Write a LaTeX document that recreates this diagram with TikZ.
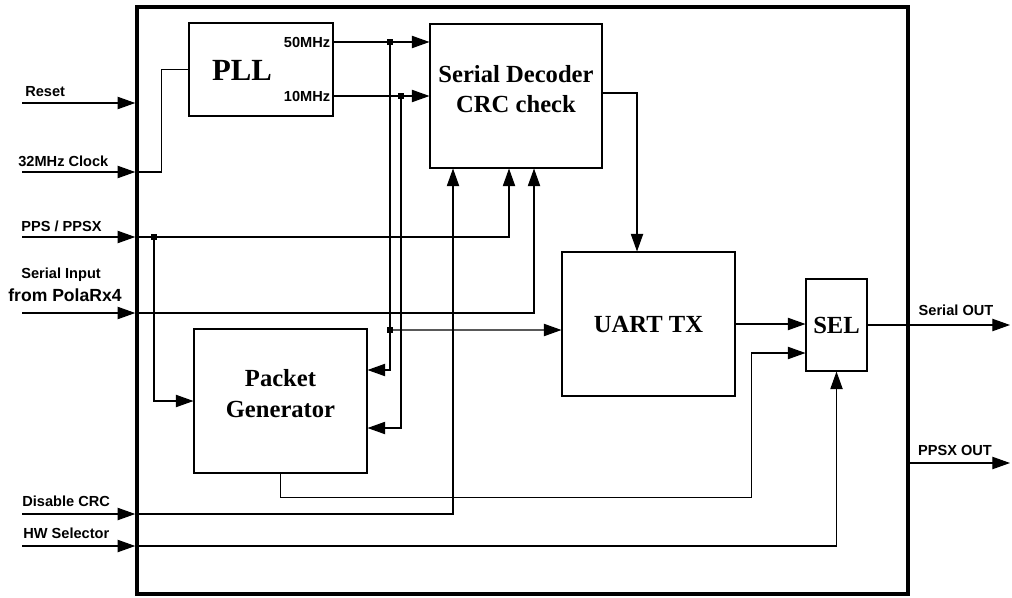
\documentclass[tikz,border=0pt]{standalone}
\usepackage{fontspec}
\setmainfont{Liberation Serif}
\setsansfont{Liberation Sans}
\usetikzlibrary{arrows.meta,positioning}
\tikzset{
  blk/.style={ draw, line width=0.6pt, inner sep=0pt, font=\bfseries\fontsize{14}{17}\selectfont }
}
\tikzset{
  blktxt/.style={ inner sep=0pt, align=center, font=\bfseries\fontsize{14}{17.5}\selectfont }
}
\tikzset{
  lbl/.style={ inner sep=0pt, font=\sffamily\bfseries\fontsize{8.3}{10}\selectfont }
}
\tikzset{
  ln/.style={ line width=0.6pt }
}
\tikzset{
  wire/.style={ line width=0.6pt, -{Triangle[length=10pt,width=7pt]} }
}
\tikzset{
  jdot/.style={ fill, rectangle, inner sep=0pt, minimum size=1.1mm }
}

\begin{document}
\begin{tikzpicture}[x=0.2mm, y=-0.2mm]
  \useasboundingbox (0,0) rectangle (1012,597);

  % blocks
  \node[draw, line width=2pt, minimum width=154.2mm, minimum height=117.4mm] (core) at (522.5,300.5) {};
  \node[blk, minimum width=28.8mm, minimum height=18.6mm] (pll) at (261,69.5) {};
  \node[blktxt, font=\bfseries\fontsize{17.5}{20}\selectfont] at (242,70) {PLL};
  \node[blk, minimum width=34.4mm, minimum height=28.8mm] (dec) at (516,96) {};
  \node[blktxt] at (516,89) {Serial Decoder\\CRC check};
  \node[blk, minimum width=34.6mm, minimum height=28.8mm] (pg) at (280.5,401) {};
  \node[blktxt] at (280.5,393.5) {Packet\\Generator};
  \node[blk, minimum width=34.6mm, minimum height=28.8mm] (uart) at (648.5,324) {UART TX};
  \node[blk, minimum width=12.2mm, minimum height=18.4mm] (sel) at (836.5,325) {SEL};

  % PLL outputs
  \coordinate (f50) at ([yshift=5.5mm]pll.east);
  \coordinate (f10) at ([yshift=-5.3mm]pll.east);
  \node[lbl, anchor=east] at ([xshift=-0.6mm]f50) {50MHz};
  \node[lbl, anchor=east] at ([xshift=-0.6mm]f10) {10MHz};

  % inputs
  \coordinate (reset) at (22,103);
  \coordinate (clk) at (22,172);
  \coordinate (pps) at (22,237);
  \coordinate (ser) at (22,313);
  \coordinate (dis) at (22,514);
  \coordinate (hw) at (22,546);
  \node[lbl, anchor=west] at (25,92) {Reset};
  \node[lbl, anchor=west] at (18,161) {32MHz Clock};
  \node[lbl, anchor=west] at (21,226) {PPS / PPSX};
  \node[lbl, anchor=west] at (21,275) {Serial Input};
  \node[lbl, anchor=west, font=\sffamily\bfseries\fontsize{10}{12}\selectfont] at (8,295) {from PolaRx4};
  \node[lbl, anchor=west] at (22,501) {Disable CRC};
  \node[lbl, anchor=west] at (23,533) {HW Selector};
  \foreach \s in {reset,clk,pps,ser,dis,hw}
    \draw[wire] (\s) -- (\s -| core.west);

  % outputs
  \coordinate (serout) at (1010,325);
  \coordinate (ppsxout) at (1010,463);
  \node[lbl] at (956,310) {Serial OUT};
  \node[lbl] at (955,450) {PPSX OUT};

  % junctions and block ports
  \coordinate (j50) at (390,42);
  \coordinate (j10) at (401,96);
  \coordinate (j50b) at (390,330);
  \coordinate (jpps) at (154,237);
  \coordinate (pgin50) at ([yshift=6.2mm]pg.east);
  \coordinate (pgin10) at ([yshift=-5.4mm]pg.east);
  \coordinate (uartin) at ([yshift=-1.2mm]uart.west);
  \coordinate (dpps) at ([xshift=-1.4mm]dec.south);
  \coordinate (dser) at ([xshift=3.6mm]dec.south);
  \coordinate (ddis) at ([xshift=-12.6mm]dec.south);
  \coordinate (dout) at ([yshift=0.6mm]dec.east);
  \coordinate (uin) at ([xshift=-2.3mm]uart.north);
  \coordinate (selin) at ([yshift=-5.6mm]sel.west);

  \draw[ln] (clk -| core.west) -- ++(26,0) |- (pll.west);
  \draw[wire] (f50) -- (f50 -| dec.west);
  \draw[wire] (f10) -- (f10 -| dec.west);
  \draw[wire] (j50) |- (pgin50);
  \draw[wire] (j10) |- (pgin10);
  \draw[wire] (j50b) -- (uartin);
  \draw[wire] (pps -| core.west) -| (dpps);
  \draw[wire] (ser -| core.west) -| (dser);
  \draw[wire] (dis -| core.west) -| (ddis);
  \draw[wire] (hw -| core.west) -| (sel.south);
  \draw[wire] (jpps) |- (pg.west);
  \draw[wire] (dout) -| (uin);
  \draw[wire] (uart.east) -- (uart.east -| sel.west);
  \draw[wire] (pg.south) -- ++(0,24) -| ([xshift=-10.8mm]selin) -- (selin);
  \draw[wire] (sel.east) -- (serout);
  \draw[wire] (ppsxout -| core.east) -- (ppsxout);

  \foreach \j in {j50,j10,j50b,jpps}
    \node[jdot] at (\j) {};
\end{tikzpicture}
\end{document}
